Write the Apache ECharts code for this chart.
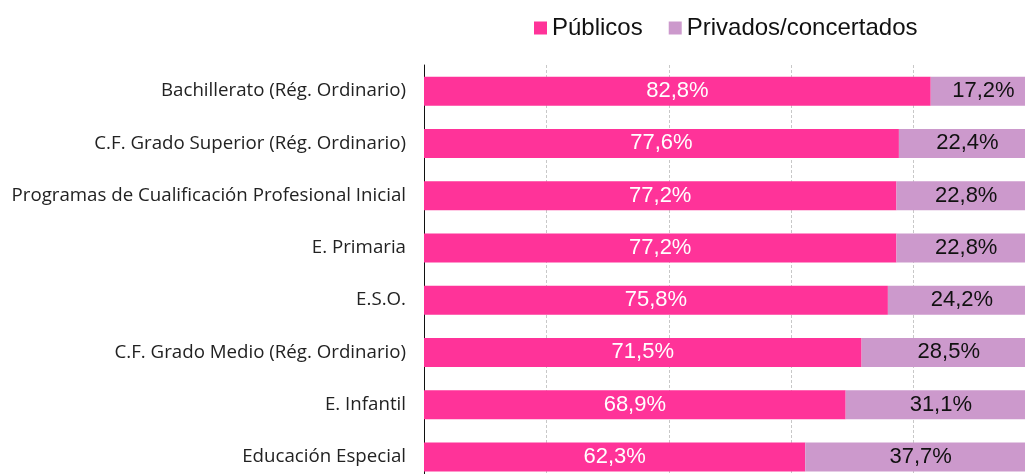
<!DOCTYPE html>
<html>
<head>
<meta charset="utf-8">
<script src="https://cdn.jsdelivr.net/npm/echarts@6/dist/echarts.min.js"></script>
<style>
  html, body { margin: 0; padding: 0; background: #fff; }
  #main { width: 1025px; height: 474px; }
</style>
</head>
<body>
<div id="main"></div>
<script>
var categories = [
  'Bachillerato (Rég. Ordinario)',
  'C.F. Grado Superior (Rég. Ordinario)',
  'Programas de Cualificación Profesional Inicial',
  'E. Primaria',
  'E.S.O.',
  'C.F. Grado Medio (Rég. Ordinario)',
  'E. Infantil',
  'Educación Especial'
]
var publicos = [82.8, 77.6, 77.2, 77.2, 75.8, 71.5, 68.9, 62.3]
var privados = [17.2, 22.4, 22.8, 22.8, 24.2, 28.5, 31.1, 37.7]

function fmt (p) {
  return p.value.toFixed(1).replace('.', ',') + '%'
}

var chart = echarts.init(document.getElementById('main'))
chart.setOption({
  animation: false,
  legend: {
    left: 529,
    top: 11,
    icon: 'rect',
    itemWidth: 13,
    itemHeight: 13,
    itemGap: 26,
    textStyle: { fontFamily: 'Liberation Sans', fontSize: 24, color: '#111' },
    data: ['Públicos', 'Privados/concertados']
  },
  grid: {
    left: 424,
    width: 612,
    top: 65,
    height: 418,
    outerBoundsMode: 'none'
  },
  xAxis: {
    type: 'value',
    min: 0,
    max: 100,
    interval: 20,
    axisLabel: { show: false },
    axisLine: { show: false },
    axisTick: { show: false },
    splitLine: { lineStyle: { color: '#c8c8c8', type: [3, 2] } }
  },
  yAxis: {
    type: 'category',
    inverse: true,
    data: categories,
    axisLine: { lineStyle: { color: '#111', width: 1 } },
    axisTick: { length: 7, lineStyle: { color: '#555' } },
    axisLabel: {
      margin: 18,
      fontFamily: 'Open Sans',
      fontSize: 18.7,
      color: '#222'
    }
  },
  series: [
    {
      name: 'Públicos',
      type: 'bar',
      stack: 'total',
      barWidth: 29,
      itemStyle: { color: '#ff3399' },
      label: {
        show: true,
        position: 'inside',
        formatter: fmt,
        fontFamily: 'Liberation Sans',
        fontSize: 22,
        color: '#fff'
      },
      data: publicos
    },
    {
      name: 'Privados/concertados',
      type: 'bar',
      stack: 'total',
      barWidth: 29,
      itemStyle: { color: '#cc99cc' },
      label: {
        show: true,
        position: 'inside',
        formatter: fmt,
        fontFamily: 'Liberation Sans',
        fontSize: 22,
        color: '#111'
      },
      data: privados
    }
  ]
})
</script>
</body>
</html>
